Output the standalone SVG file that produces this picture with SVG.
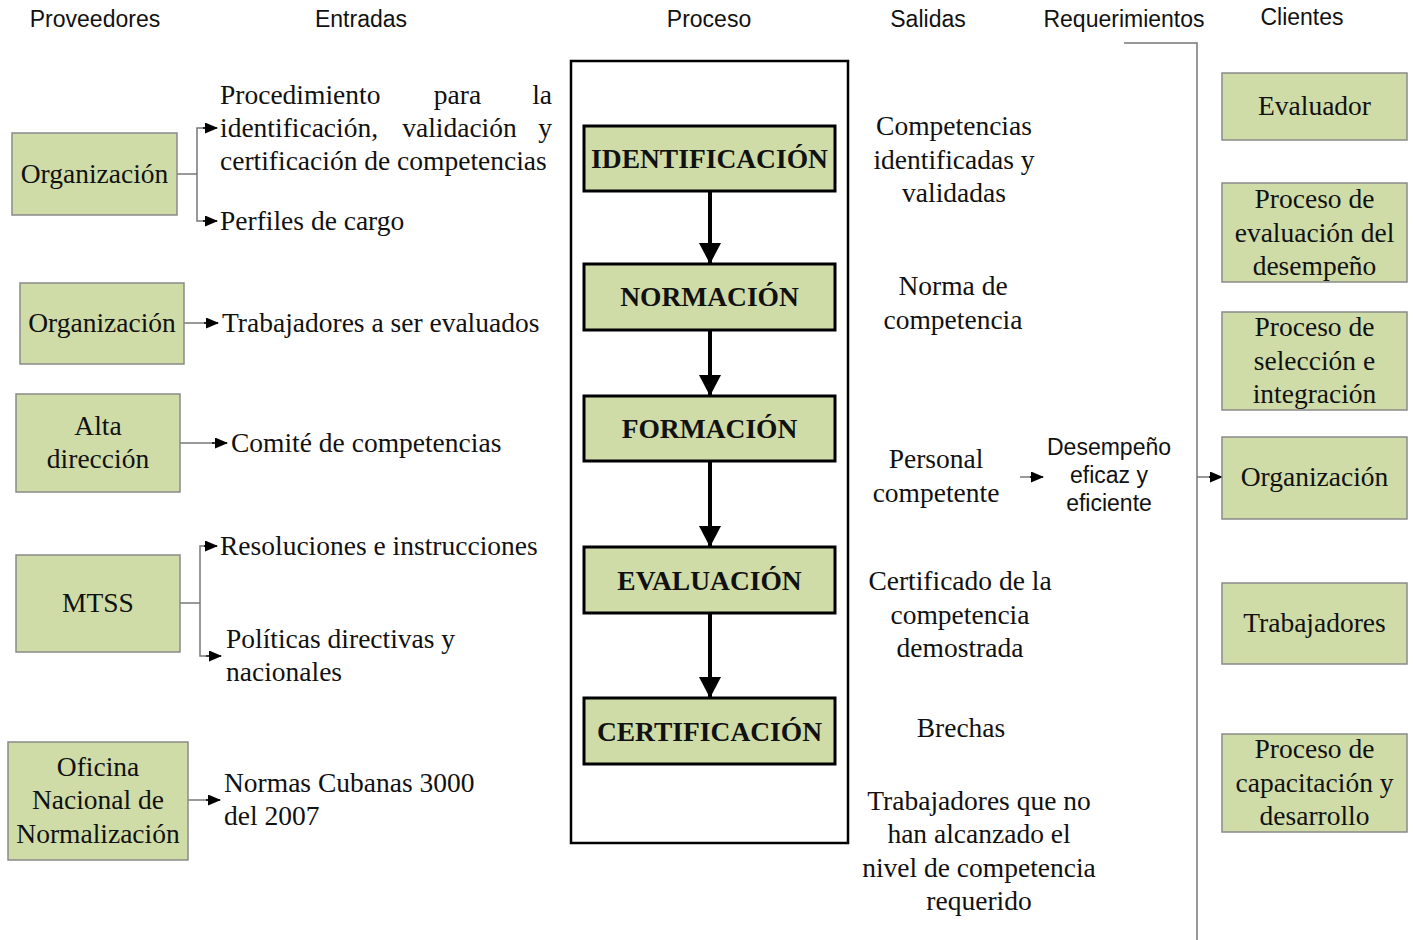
<svg xmlns="http://www.w3.org/2000/svg" width="1413" height="940" viewBox="0 0 1413 940">
<defs>
<marker id="ah" markerWidth="13" markerHeight="11" refX="12" refY="5.5" orient="auto" markerUnits="userSpaceOnUse"><path d="M0,0 L13,5.5 L0,11 Z" fill="#000"/></marker>
<marker id="big" markerWidth="22" markerHeight="22" refX="20" refY="11" orient="auto" markerUnits="userSpaceOnUse"><path d="M0,0 L21,11 L0,22 Z" fill="#000"/></marker>
</defs>
<style>
.box{fill:#cfdca8;stroke:#8a8a8a;stroke-width:1.5}
.pbox{fill:#cfdca8;stroke:#000;stroke-width:3}
.t{font-family:"Liberation Serif",serif;font-size:27.5px;fill:#111}
.c{text-anchor:middle}
.b{font-family:"Liberation Serif",serif;font-size:27.5px;font-weight:bold;fill:#111;text-anchor:middle}
.h{font-family:"Liberation Sans",sans-serif;font-size:23px;fill:#111;text-anchor:middle}
.s{font-family:"Liberation Sans",sans-serif;font-size:23px;fill:#111;text-anchor:middle}
.ln{fill:none;stroke:#777;stroke-width:1.5}
.thick{fill:none;stroke:#000;stroke-width:4}
</style>
<rect width="1413" height="940" fill="#fff"/>
<g id="headers">
<text class="h" x="95" y="27">Proveedores</text>
<text class="h" x="361" y="27">Entradas</text>
<text class="h" x="709" y="27">Proceso</text>
<text class="h" x="928" y="27">Salidas</text>
<text class="h" x="1124" y="27">Requerimientos</text>
<text class="h" x="1302" y="25">Clientes</text>
</g>
<g id="connectors">
<polyline class="ln" points="177,174 197,174"/>
<polyline class="ln" points="205,128 197,128 197,221 205,221"/>
<line x1="203" y1="128" x2="217" y2="128" stroke="#000" stroke-width="1.5" marker-end="url(#ah)"/>
<line x1="203" y1="221" x2="217" y2="221" stroke="#000" stroke-width="1.5" marker-end="url(#ah)"/>
<line class="ln" x1="184" y1="323" x2="206" y2="323"/>
<line x1="204" y1="323" x2="218" y2="323" stroke="#000" stroke-width="1.5" marker-end="url(#ah)"/>
<line class="ln" x1="180" y1="443" x2="214" y2="443"/>
<line x1="212" y1="443" x2="227" y2="443" stroke="#000" stroke-width="1.5" marker-end="url(#ah)"/>
<polyline class="ln" points="180,603 200,603"/>
<polyline class="ln" points="206,546 200,546 200,656 206,656"/>
<line x1="204" y1="546" x2="217" y2="546" stroke="#000" stroke-width="1.5" marker-end="url(#ah)"/>
<line x1="206" y1="656" x2="221" y2="656" stroke="#000" stroke-width="1.5" marker-end="url(#ah)"/>
<line class="ln" x1="188" y1="800" x2="208" y2="800"/>
<line x1="206" y1="800" x2="220" y2="800" stroke="#000" stroke-width="1.5" marker-end="url(#ah)"/>
<line class="thick" x1="710" y1="192" x2="710" y2="263" marker-end="url(#big)"/>
<line class="thick" x1="710" y1="331" x2="710" y2="395" marker-end="url(#big)"/>
<line class="thick" x1="710" y1="462" x2="710" y2="546" marker-end="url(#big)"/>
<line class="thick" x1="710" y1="614" x2="710" y2="697" marker-end="url(#big)"/>
<line class="ln" x1="1020" y1="477" x2="1032" y2="477"/>
<line x1="1030" y1="477" x2="1043" y2="477" stroke="#000" stroke-width="1.5" marker-end="url(#ah)"/>
<polyline class="ln" points="1124,43 1197,43 1197,940"/>
<line class="ln" x1="1197" y1="477" x2="1211" y2="477"/>
<line x1="1209" y1="477" x2="1222" y2="477" stroke="#000" stroke-width="1.5" marker-end="url(#ah)"/>
</g>
<g id="prov-organizacion-1"><rect class="box" x="12" y="133" width="165" height="82"/><text class="t c" x="94.5" y="183">Organización</text></g>
<g id="prov-organizacion-2"><rect class="box" x="20" y="283" width="164" height="81"/><text class="t c" x="102" y="332">Organización</text></g>
<g id="prov-alta-direccion"><rect class="box" x="16" y="394" width="164" height="98"/><text class="t c" x="98" y="435">Alta</text><text class="t c" x="98" y="468">dirección</text></g>
<g id="prov-mtss"><rect class="box" x="16" y="555" width="164" height="97"/><text class="t c" x="98" y="612">MTSS</text></g>
<g id="prov-oficina"><rect class="box" x="8" y="742" width="180" height="118"/><text class="t c" x="98" y="776">Oficina</text><text class="t c" x="98" y="809">Nacional de</text><text class="t c" x="98" y="843">Normalización</text></g>
<g id="entradas">
<text class="t" x="220" y="104">Procedimiento</text><text class="t" x="457.5" y="104" text-anchor="middle">para</text><text class="t" x="552" y="104" text-anchor="end">la</text>
<text class="t" x="220" y="137">identificación,</text><text class="t" x="459.5" y="137" text-anchor="middle">validación</text><text class="t" x="552" y="137" text-anchor="end">y</text>
<text class="t" x="220" y="170">certificación de competencias</text>
<text class="t" x="220" y="230">Perfiles de cargo</text>
<text class="t" x="222" y="332">Trabajadores a ser evaluados</text>
<text class="t" x="231" y="452">Comité de competencias</text>
<text class="t" x="220" y="555">Resoluciones e instrucciones</text>
<text class="t" x="226" y="648">Políticas directivas y</text>
<text class="t" x="226" y="681">nacionales</text>
<text class="t" x="224" y="792">Normas Cubanas 3000</text>
<text class="t" x="224" y="825">del 2007</text>
</g>
<g id="proceso-frame"><rect x="571" y="61" width="277" height="782" fill="none" stroke="#000" stroke-width="2.5"/></g>
<g id="p-identificacion"><rect class="pbox" x="584" y="126" width="251" height="65"/><text class="b" x="709.5" y="168">IDENTIFICACIÓN</text></g>
<g id="p-normacion"><rect class="pbox" x="584" y="264" width="251" height="66"/><text class="b" x="709.5" y="306">NORMACIÓN</text></g>
<g id="p-formacion"><rect class="pbox" x="584" y="396" width="251" height="65"/><text class="b" x="709.5" y="438">FORMACIÓN</text></g>
<g id="p-evaluacion"><rect class="pbox" x="584" y="547" width="251" height="66"/><text class="b" x="709.5" y="590">EVALUACIÓN</text></g>
<g id="p-certificacion"><rect class="pbox" x="584" y="698" width="251" height="66"/><text class="b" x="709.5" y="741">CERTIFICACIÓN</text></g>
<g id="salidas">
<text class="t c" x="954" y="135">Competencias</text><text class="t c" x="954" y="169">identificadas y</text><text class="t c" x="954" y="202">validadas</text>
<text class="t c" x="953" y="295">Norma de</text><text class="t c" x="953" y="329">competencia</text>
<text class="t c" x="936" y="468">Personal</text><text class="t c" x="936" y="502">competente</text>
<text class="t c" x="960" y="590">Certificado de la</text><text class="t c" x="960" y="624">competencia</text><text class="t c" x="960" y="657">demostrada</text>
<text class="t c" x="961" y="737">Brechas</text>
<text class="t c" x="979" y="810">Trabajadores que no</text><text class="t c" x="979" y="843">han alcanzado el</text><text class="t c" x="979" y="877">nivel de competencia</text><text class="t c" x="979" y="910">requerido</text>
</g>
<g id="requerimiento"><text class="s" x="1109" y="455">Desempeño</text><text class="s" x="1109" y="483">eficaz y</text><text class="s" x="1109" y="511">eficiente</text></g>
<g id="cli-evaluador"><rect class="box" x="1222" y="73" width="185" height="67"/><text class="t c" x="1314.5" y="115">Evaluador</text></g>
<g id="cli-evaluacion-desempeno"><rect class="box" x="1222" y="183" width="185" height="99"/><text class="t c" x="1314.5" y="208">Proceso de</text><text class="t c" x="1314.5" y="242">evaluación del</text><text class="t c" x="1314.5" y="275">desempeño</text></g>
<g id="cli-seleccion"><rect class="box" x="1222" y="312" width="185" height="98"/><text class="t c" x="1314.5" y="336">Proceso de</text><text class="t c" x="1314.5" y="370">selección e</text><text class="t c" x="1314.5" y="403">integración</text></g>
<g id="cli-organizacion"><rect class="box" x="1222" y="437" width="185" height="82"/><text class="t c" x="1314.5" y="486">Organización</text></g>
<g id="cli-trabajadores"><rect class="box" x="1222" y="583" width="185" height="81"/><text class="t c" x="1314.5" y="632">Trabajadores</text></g>
<g id="cli-capacitacion"><rect class="box" x="1222" y="734" width="185" height="98"/><text class="t c" x="1314.5" y="758">Proceso de</text><text class="t c" x="1314.5" y="792">capacitación y</text><text class="t c" x="1314.5" y="825">desarrollo</text></g>
</svg>
